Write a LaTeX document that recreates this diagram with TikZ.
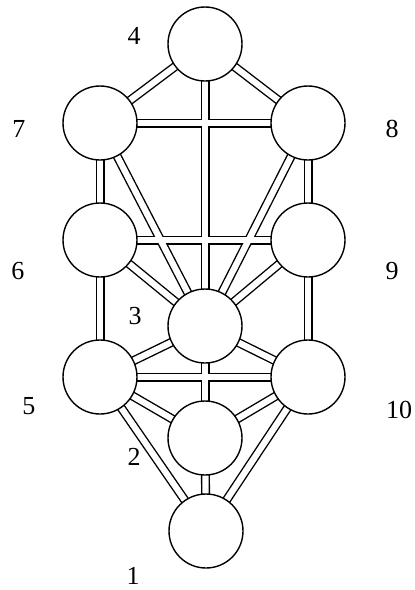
\documentclass[tikz,border=0pt]{standalone}
\usepackage{fontspec}
\setmainfont{Liberation Serif}
\usetikzlibrary{positioning,backgrounds}

\begin{document}
\begin{tikzpicture}[x=1pt,y=-1pt,
  sefira/.style={circle,draw,line width=1.4pt,fill=white,minimum size=74pt,inner sep=0pt},
  num/.style={font=\fontsize{26}{30}\selectfont,inner sep=0pt},
  pathout/.style={line width=9pt,black},
  pathin/.style={line width=6.2pt,white}
]
  \useasboundingbox (0,0) rectangle (415,590);
  % circles
  \node[sefira](s4) at (205,44){};
  \node[sefira](s7) at (100,123){};
  \node[sefira](s8) at (308,123){};
  \node[sefira](s6) at (100,240){};
  \node[sefira](s9) at (308,240){};
  \node[sefira](s3) at (205,326){};
  \node[sefira](s5) at (100,377){};
  \node[sefira](s10) at (308,377){};
  \node[sefira](s2) at (205,438){};
  \node[sefira](s1) at (206,531){};
  % numbers
  \node[num](n4) at (134,36){4};
  \node[num](n7) at (19,129){7};
  \node[num](n8) at (392,129){8};
  \node[num](n6) at (18,271){6};
  \node[num](n9) at (392,271){9};
  \node[num](n3) at (135,316){3};
  \node[num](n5) at (29,406){5};
  \node[num](n10) at (399,410){10};
  \node[num](n2) at (134,457){2};
  \node[num](n1) at (133,576){1};
  % paths
  \begin{scope}[on background layer]
    \fill[white] (0,0) rectangle (415,590);
    \foreach \a/\b in {4/7,4/8,4/3,7/8,7/6,8/9,7/3,8/3,6/9,6/3,9/3,6/5,9/10,
                       5/3,10/3,5/10,3/2,5/2,10/2,5/1,10/1,2/1}
      \draw[pathout](s\a.center)--(s\b.center);
    \foreach \a/\b in {4/7,4/8,4/3,7/8,7/6,8/9,7/3,8/3,6/9,6/3,9/3,6/5,9/10,
                       5/3,10/3,5/10,3/2,5/2,10/2,5/1,10/1,2/1}
      \draw[pathin](s\a.center)--(s\b.center);
  \end{scope}
\end{tikzpicture}
\end{document}
